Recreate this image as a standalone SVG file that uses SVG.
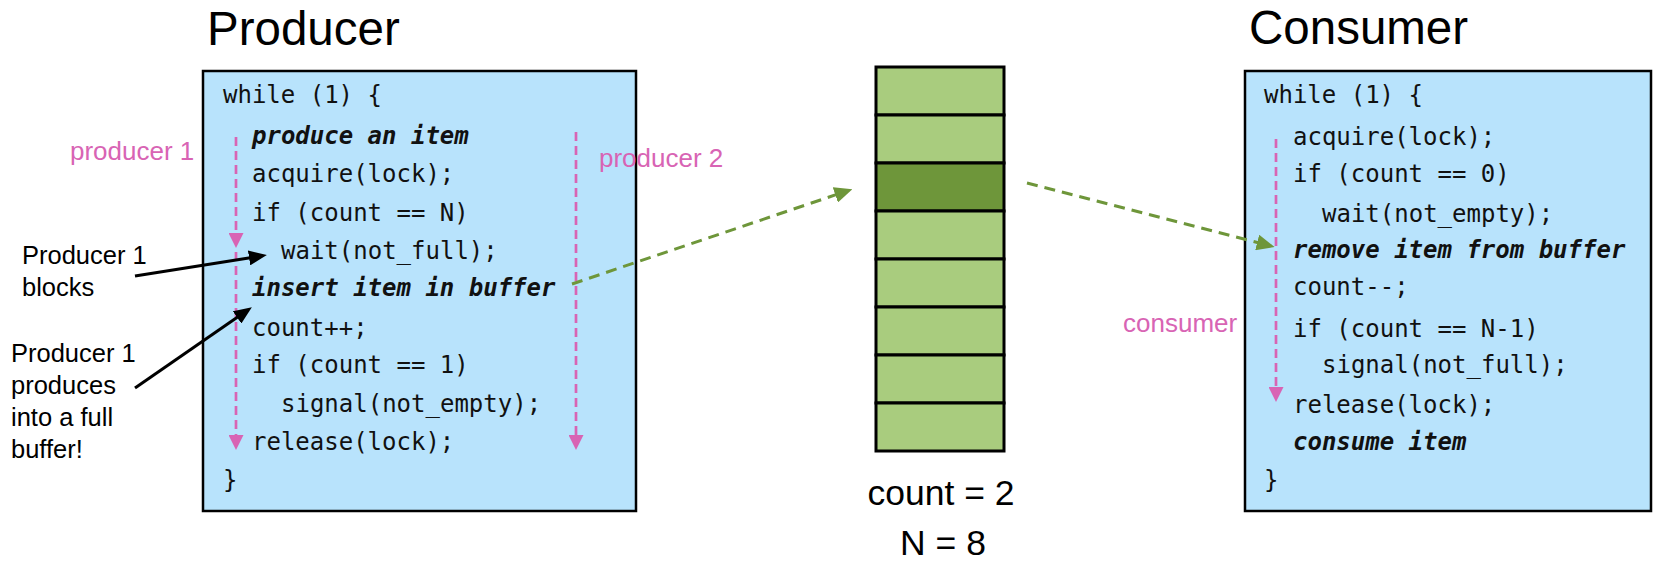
<svg xmlns="http://www.w3.org/2000/svg" width="1668" height="562" viewBox="0 0 1668 562">
<style>
.title{font-family:"Liberation Sans",Arial,sans-serif;font-size:47.5px;fill:#000}
.code{font-family:"DejaVu Sans Mono","Liberation Mono",monospace;font-size:24px;fill:#111}
.em{font-weight:bold;font-style:italic}
.pink{font-family:"Liberation Sans",Arial,sans-serif;font-size:26px;fill:#D864B4}
.lbl{font-family:"Liberation Sans",Arial,sans-serif;font-size:25.5px;fill:#000}
.big{font-family:"Liberation Sans",Arial,sans-serif;font-size:35.5px;fill:#000}
.box{fill:#B8E3FC;stroke:#000;stroke-width:2.5}
.slot{fill:#A9CC7E;stroke:#000;stroke-width:3}
.slotd{fill:#6E963A;stroke:#000;stroke-width:3}
.pline{stroke:#D864B4;stroke-width:2.7;stroke-dasharray:9 5;fill:none}
.gline{stroke:#6E963A;stroke-width:3;stroke-dasharray:11 7;fill:none}
.bline{stroke:#000;stroke-width:3;fill:none}
</style>
<defs>
<marker id="pa" markerUnits="userSpaceOnUse" markerWidth="15" markerHeight="15" refX="5" refY="7.5" orient="auto"><path d="M0,0 L15,7.5 L0,15 z" fill="#D864B4"/></marker>
<marker id="ga" markerUnits="userSpaceOnUse" markerWidth="18" markerHeight="16" refX="6" refY="8" orient="auto"><path d="M0,0 L18,8 L0,16 z" fill="#6E963A"/></marker>
<marker id="ba" markerUnits="userSpaceOnUse" markerWidth="18" markerHeight="15" refX="6" refY="7.5" orient="auto"><path d="M0,0 L18,7.5 L0,15 z" fill="#000"/></marker>
</defs>

<g id="producer">
<text class="title" x="207" y="45">Producer</text>
<rect class="box" x="203" y="71" width="433" height="440"/>
<text class="code" x="223" y="103">while (1) {</text>
<text class="code em" x="252" y="144">produce an item</text>
<text class="code" x="252" y="182">acquire(lock);</text>
<text class="code" x="252" y="221">if (count == N)</text>
<text class="code" x="281" y="259">wait(not_full);</text>
<text class="code em" x="252" y="296">insert item in buffer</text>
<text class="code" x="252" y="336">count++;</text>
<text class="code" x="252" y="373">if (count == 1)</text>
<text class="code" x="281" y="412">signal(not_empty);</text>
<text class="code" x="252" y="450">release(lock);</text>
<text class="code" x="223" y="488">}</text>
</g>

<g id="buffer">
<rect class="slot" x="876" y="67" width="128" height="48"/>
<rect class="slot" x="876" y="115" width="128" height="48"/>
<rect class="slotd" x="876" y="163" width="128" height="48"/>
<rect class="slot" x="876" y="211" width="128" height="48"/>
<rect class="slot" x="876" y="259" width="128" height="48"/>
<rect class="slot" x="876" y="307" width="128" height="48"/>
<rect class="slot" x="876" y="355" width="128" height="48"/>
<rect class="slot" x="876" y="403" width="128" height="48"/>
<text class="big" x="941" y="505" text-anchor="middle">count = 2</text>
<text class="big" x="943" y="555" text-anchor="middle">N = 8</text>
</g>

<g id="consumer">
<text class="title" x="1249" y="44">Consumer</text>
<rect class="box" x="1245" y="71" width="406" height="440"/>
<text class="code" x="1264" y="103">while (1) {</text>
<text class="code" x="1293" y="145">acquire(lock);</text>
<text class="code" x="1293" y="182">if (count == 0)</text>
<text class="code" x="1322" y="222">wait(not_empty);</text>
<text class="code em" x="1293" y="258">remove item from buffer</text>
<text class="code" x="1293" y="295">count--;</text>
<text class="code" x="1293" y="337">if (count == N-1)</text>
<text class="code" x="1322" y="373">signal(not_full);</text>
<text class="code" x="1293" y="413">release(lock);</text>
<text class="code em" x="1293" y="450">consume item</text>
<text class="code" x="1264" y="488">}</text>
</g>

<g id="labels">
<text class="pink" x="70" y="160">producer 1</text>
<text class="pink" x="599" y="167">producer 2</text>
<text class="pink" x="1123" y="332">consumer</text>
<text class="lbl" x="22" y="264">Producer 1</text>
<text class="lbl" x="22" y="296">blocks</text>
<text class="lbl" x="11" y="362">Producer 1</text>
<text class="lbl" x="11" y="394">produces</text>
<text class="lbl" x="11" y="426">into a full</text>
<text class="lbl" x="11" y="458">buffer!</text>
</g>

<g id="connectors">
<line class="pline" x1="236" y1="137" x2="236" y2="238" marker-end="url(#pa)"/>
<line class="pline" x1="236" y1="252" x2="236" y2="440" marker-end="url(#pa)"/>
<line class="pline" x1="576" y1="132" x2="576" y2="440" marker-end="url(#pa)"/>
<line class="pline" x1="1276" y1="139" x2="1276" y2="392" marker-end="url(#pa)"/>
<line class="gline" x1="572" y1="284" x2="841" y2="193" marker-end="url(#ga)"/>
<line class="gline" x1="1027" y1="183" x2="1263" y2="244" marker-end="url(#ga)"/>
<line class="bline" x1="135" y1="276" x2="255" y2="257" marker-end="url(#ba)"/>
<line class="bline" x1="135" y1="388" x2="242" y2="314" marker-end="url(#ba)"/>
</g>
</svg>
